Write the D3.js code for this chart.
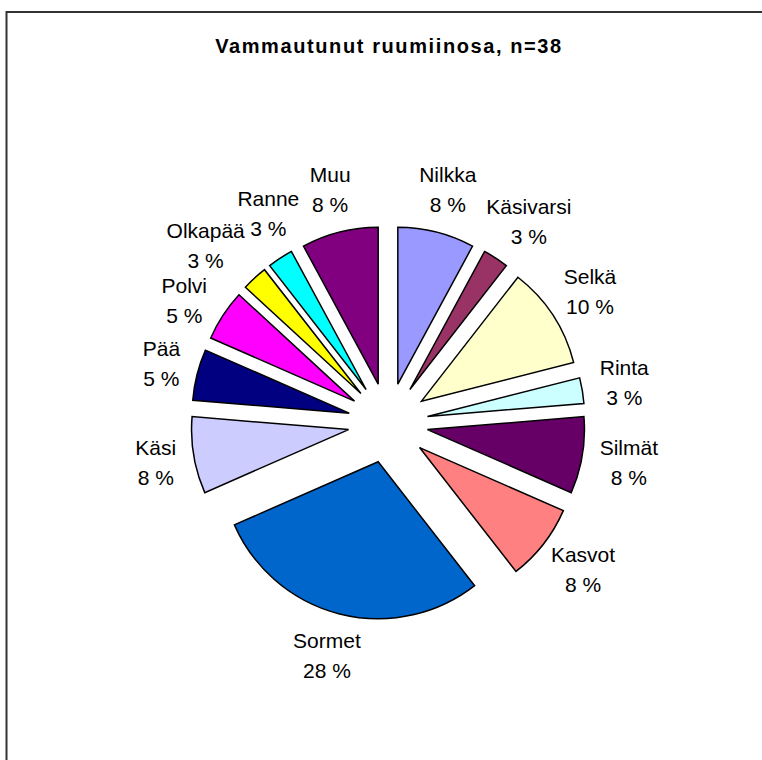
<!DOCTYPE html>
<html>
<head>
<meta charset="utf-8">
<script src="https://cdn.jsdelivr.net/npm/d3@7"></script>
<style>
  body { margin: 0; background: #fff; }
</style>
</head>
<body>
<div id="chart"></div>
<script>
// data (counts, n=38) and the printed percentages
const categories = ["Nilkka", "Käsivarsi", "Selkä", "Rinta", "Silmät", "Kasvot", "Sormet",
    "Käsi", "Pää", "Polvi", "Olkapää", "Ranne", "Muu"];
const counts = [3, 1, 4, 1, 3, 3, 11, 3, 2, 2, 1, 1, 3];
const pctLabels = ["8 %", "3 %", "10 %", "3 %", "8 %", "8 %", "28 %", "8 %", "5 %", "5 %", "3 %", "3 %", "8 %"];
const colors = ["#9999FF", "#993366", "#FFFFCC", "#CCFFFF", "#660066", "#FF8080", "#0066CC",
    "#CCCCFF", "#000080", "#FF00FF", "#FFFF00", "#00FFFF", "#800080"];
const title = "Vammautunut ruumiinosa, n=38";

const width = 762,
    height = 760;
const cx = 388, cy = 423;
const radius = 157;
const explode = 40;
const labelGap = 18;
const fontSize = 21;

const svg = d3.select("#chart").append("svg")
    .attr("width", width)
    .attr("height", height)
    .style("font-family", "'Liberation Sans', Arial, sans-serif");

// chart area border (runs off the right and bottom of the picture)
svg.append("rect")
    .attr("x", 6.5)
    .attr("y", 12)
    .attr("width", 820)
    .attr("height", 820)
    .attr("fill", "none")
    .attr("stroke", "#333")
    .attr("stroke-width", 2);

svg.append("text")
    .attr("x", 389)
    .attr("y", 53)
    .attr("text-anchor", "middle")
    .attr("font-weight", "bold")
    .attr("font-size", 20)
    .attr("letter-spacing", 1.6)
    .text(title);

const pie = d3.pie().sort(null).value(d => d.value);
const arcs = pie(categories.map((c, i) => ({ name: c, value: counts[i], pct: pctLabels[i], color: colors[i] })));

const arc = d3.arc().innerRadius(0).outerRadius(radius);
const mid = d => (d.startAngle + d.endAngle) / 2;
const offX = d => explode * Math.sin(mid(d));
const offY = d => -explode * Math.cos(mid(d));

svg.append("g")
    .attr("transform", `translate(${cx},${cy})`)
    .selectAll("path")
    .data(arcs)
    .join("path")
    .attr("transform", d => `translate(${offX(d)},${offY(d)})`)
    .attr("d", arc)
    .attr("fill", d => d.data.color)
    .attr("stroke", "#000")
    .attr("stroke-width", 1.5);

// labels sit just outside the arc, box pushed away along the mid angle
const label = svg.append("g")
    .attr("text-anchor", "middle")
    .attr("font-size", fontSize)
    .attr("fill", "#000")
    .selectAll("text")
    .data(arcs)
    .join("text");

label.append("tspan").attr("class", "name").text(d => d.data.name);
label.append("tspan").attr("class", "pct").text(d => d.data.pct);

const blocks = [];
label.each(function (d) {
    const t = d3.select(this);
    const wn = t.select(".name").node().getComputedTextLength();
    const wp = t.select(".pct").node().getComputedTextLength();
    const w = Math.max(wn, wp);
    const s = Math.sin(mid(d)), c = -Math.cos(mid(d));
    const r0 = radius + labelGap;
    blocks.push({
        t, wn, wp,
        x: cx + offX(d) + r0 * s + (w / 2) * s,
        y: cy + offY(d) + r0 * c + 25 * c
    });
});

// one box per text line
const asc = fontSize * 0.9, desc = fontSize * 0.22;
const lines = b => [
    { x0: b.x - b.wn / 2, x1: b.x + b.wn / 2, y0: b.y - 8 - asc, y1: b.y - 8 + desc },
    { x0: b.x - b.wp / 2, x1: b.x + b.wp / 2, y0: b.y + 22 - asc, y1: b.y + 22 + desc }
];
const hit = (a, b) => a.x0 < b.x1 + 5 && b.x0 < a.x1 + 5 && a.y0 < b.y1 + 1 && b.y0 < a.y1 + 1;

// nudge crowded labels apart
for (let iter = 0; iter < 300; iter++) {
    let moved = false;
    for (let i = 0; i < blocks.length; i++) {
        for (let j = i + 1; j < blocks.length; j++) {
            const a = blocks[i], b = blocks[j];
            const la = lines(a), lb = lines(b);
            if (la.some(p => lb.some(q => hit(p, q)))) {
                let dx = b.x - a.x, dy = b.y - a.y;
                const len = Math.hypot(dx, dy) || 1;
                dx /= len; dy /= len;
                a.x -= dx * 0.5; a.y -= dy * 0.5;
                b.x += dx * 0.5; b.y += dy * 0.5;
                moved = true;
            }
        }
    }
    if (!moved) break;
}

blocks.forEach(b => {
    b.t.select(".name").attr("x", b.x).attr("y", b.y - 8);
    b.t.select(".pct").attr("x", b.x).attr("y", b.y + 22);
});
</script>
</body>
</html>
